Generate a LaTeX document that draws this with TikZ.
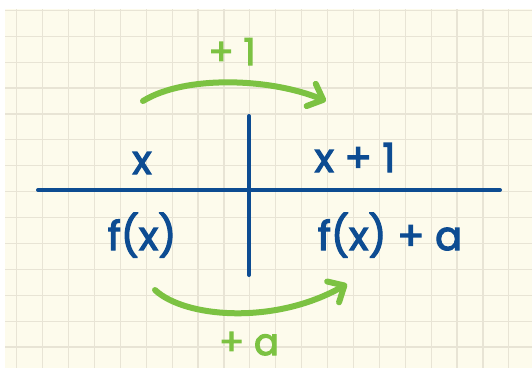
\documentclass[tikz,border=0pt]{standalone}
\usepackage{fontspec}
\setmainfont{Poppins}
\newfontfamily\handfont{Poppins}[FakeBold=3]
\usepackage{xcolor}
\usepackage{tikz}
\usetikzlibrary{arrows.meta, positioning}

\definecolor{paper}{HTML}{FDFBEC}
\definecolor{gridline}{HTML}{E8E4D5}
\definecolor{ink}{HTML}{0D4C92}
\definecolor{marker}{HTML}{7CC242}

\tikzset{
    rule/.style={ink, line width=4pt, line cap=round},
    shift arrow/.style={marker, line width=6pt, line cap=round,
        -{Straight Barb[length=13pt, width=24pt, line width=6pt, round]}},
    entry/.style={ink, anchor=base, font=\handfont\fontsize{40}{44}\selectfont},
    shift label/.style={marker, anchor=base, font=\handfont\fontsize{37}{40}\selectfont}
}

\begin{document}
\begin{tikzpicture}[x=1pt, y=-1pt]

    % =================================================================
    % 1. NỀN GIẤY KẺ Ô
    % =================================================================
    \useasboundingbox (0,0) rectangle (532,368);
    \fill[white] (0,0) rectangle (532,368);
    \fill[paper] (5,9) rectangle (532,368);
    \begin{scope}
        \clip (5,9) rectangle (532,368);
        \foreach \i in {0,...,19} {
            \draw[gridline, line width=1.2pt] (16.7+25.9*\i,9) -- (16.7+25.9*\i,368);
        }
        \foreach \j in {0,...,14} {
            \draw[gridline, line width=1.2pt] (5,10.3+25.9*\j) -- (532,10.3+25.9*\j);
        }
    \end{scope}

    % =================================================================
    % 2. BẢNG GIÁ TRỊ
    % =================================================================
    \draw[rule] (38,190) -- (500,190);
    \draw[rule] (249,116) -- (249,275);

    \node[entry] (x) at (142,174) {x};
    \node[entry] (xone) at (355,172) {x + 1};
    \node[entry] (fx) at (142,250) {f(x)};
    \node[entry] (fxa) at (390,250) {f(x) + a};

    % =================================================================
    % 3. MŨI TÊN DỊCH CHUYỂN
    % =================================================================
    % Mũi tên phía trên: x -> x + 1
    \coordinate (top start) at (143,101);
    \coordinate (top end) at (326,101);
    \draw[shift arrow] (top start) .. controls (185,75) and (270,78) .. (top end);
    \node[shift label] (plusone) at (232,65) {+ 1};

    % Mũi tên phía dưới: f(x) -> f(x) + a
    \coordinate (bottom start) at (155,290);
    \coordinate (bottom end) at (347,284);
    \draw[shift arrow] (bottom start) .. controls (185,318) and (275,325) .. (bottom end);
    \node[shift label, inner sep=0pt] (plusa) at (249,355) {+ a};

\end{tikzpicture}
\end{document}
